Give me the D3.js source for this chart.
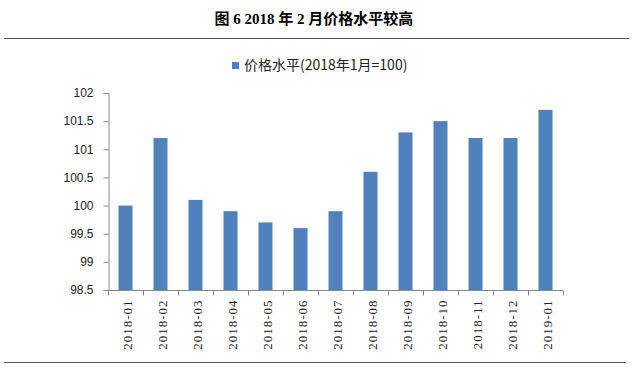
<!DOCTYPE html>
<html>
<head>
<meta charset="utf-8">
<script src="https://cdn.jsdelivr.net/npm/d3@7"></script>
<style>
  body { margin: 0; background: #fff; }
</style>
</head>
<body>
<div id="chart"></div>
<script>
// chart data
const months = ["2018-01", "2018-02", "2018-03", "2018-04", "2018-05", "2018-06", "2018-07",
  "2018-08", "2018-09", "2018-10", "2018-11", "2018-12", "2019-01"];
const priceLevel = [100, 101.2, 100.1, 99.9, 99.7, 99.6, 99.9, 100.6, 101.3, 101.5, 101.2, 101.2, 101.7];
const yTicks = [98.5, 99, 99.5, 100, 100.5, 101, 101.5, 102];
const titleText = "图 6  2018 年 2 月价格水平较高";
const legendText = "价格水平(2018年1月=100)";

const width = 634, height = 371;
const plotLeft = 108, plotRight = 563, plotTop = 93, plotBottom = 290;

const svg = d3.select("#chart").append("svg")
  .attr("width", width)
  .attr("height", height);

// title and the rules above / below the chart
svg.append("text")
  .attr("x", 314).attr("y", 24)
  .attr("text-anchor", "middle")
  .style("font-family", "'Liberation Serif', 'Noto Sans CJK SC', serif")
  .style("font-weight", "bold")
  .style("font-size", "15px")
  .text(titleText);

svg.append("line")
  .attr("x1", 4).attr("x2", 629).attr("y1", 38.5).attr("y2", 38.5)
  .style("stroke", "#555").style("stroke-width", 1);
svg.append("line")
  .attr("x1", 4).attr("x2", 626).attr("y1", 362.5).attr("y2", 362.5)
  .style("stroke", "#555").style("stroke-width", 1);

// legend
const legend = svg.append("g").attr("transform", "translate(232,68)");
legend.append("rect")
  .attr("x", 0).attr("y", -6).attr("width", 7).attr("height", 7)
  .style("fill", "#4F81BD");
legend.append("text")
  .attr("x", 12).attr("y", 2)
  .style("font-family", "'Noto Sans CJK SC', sans-serif")
  .style("font-size", "14px")
  .style("fill", "#222")
  .text(legendText);

// scales
const x = d3.scaleBand()
  .domain(months)
  .range([plotLeft, plotRight])
  .paddingInner(0.6)
  .paddingOuter(0.3);

const xGrid = d3.scaleBand().domain(months).range([plotLeft, plotRight]);

const y = d3.scaleLinear()
  .domain([98.5, 102])
  .range([plotBottom, plotTop]);

// bars
svg.selectAll("rect.bar")
  .data(priceLevel)
  .enter().append("rect")
  .attr("class", "bar")
  .attr("x", (d, i) => x(months[i]))
  .attr("width", x.bandwidth())
  .attr("y", d => y(d))
  .attr("height", d => y(98.5) - y(d))
  .style("fill", "#4F81BD");

// y axis
const yAxis = svg.append("g")
  .attr("transform", `translate(${plotLeft + 0.5},0)`)
  .call(d3.axisLeft(y).tickValues(yTicks).tickFormat(d => d).tickSizeOuter(0).tickSize(5).tickPadding(10));
yAxis.selectAll("path, line").style("stroke", "#888");
yAxis.selectAll("text")
  .style("font-family", "'Liberation Sans', sans-serif")
  .style("font-size", "12px")
  .style("fill", "#222");

// x axis: ticks at category boundaries
const xAxis = svg.append("g")
  .attr("transform", `translate(0,${plotBottom + 0.5})`);
xAxis.append("line")
  .attr("x1", plotLeft).attr("x2", plotRight)
  .style("stroke", "#888");
xAxis.selectAll("line.tick")
  .data(months.concat(["end"]))
  .enter().append("line")
  .attr("class", "tick")
  .attr("x1", (d, i) => Math.round(plotLeft + i * xGrid.step()) + 0.5)
  .attr("x2", (d, i) => Math.round(plotLeft + i * xGrid.step()) + 0.5)
  .attr("y1", 0).attr("y2", 5)
  .style("stroke", "#888");
xAxis.selectAll("text")
  .data(months)
  .enter().append("text")
  .attr("transform", d => `translate(${xGrid(d) + xGrid.bandwidth() / 2 + 6},9) rotate(-90)`)
  .attr("text-anchor", "end")
  .style("font-family", "'Liberation Serif', serif")
  .style("font-size", "13px")
  .style("letter-spacing", "1px")
  .style("fill", "#222")
  .text(d => d);
</script>
</body>
</html>
